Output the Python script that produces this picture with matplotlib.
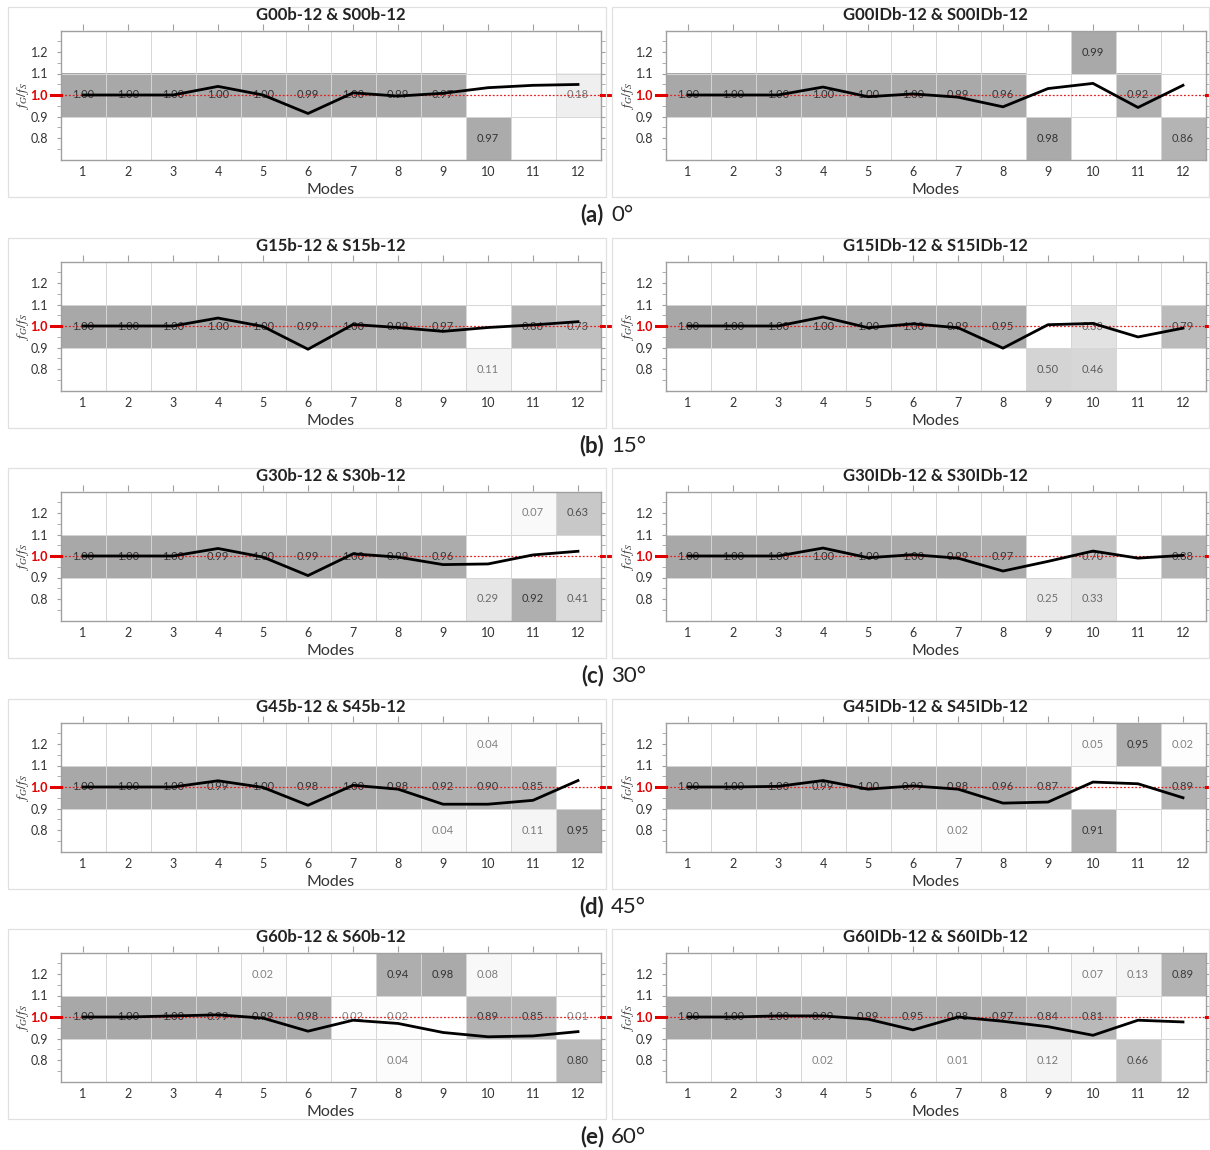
import numpy as np
import matplotlib
matplotlib.use('Agg')
import matplotlib.pyplot as plt
from matplotlib.patches import Rectangle
from matplotlib.transforms import blended_transform_factory

plt.rcParams['font.family'] = ['Lato', 'DejaVu Sans']
plt.rcParams['mathtext.fontset'] = 'stix'

N = np.nan
MODES = list(range(1, 13))
Y_TICKS = [0.8, 0.9, 1.0, 1.1, 1.2]
Y_MINOR = [0.75, 0.85, 0.95, 1.05, 1.15, 1.25]
BANDS = [(1.1, 1.3), (0.9, 1.1), (0.7, 0.9)]   # top, middle, bottom cell rows

TITLES = [
    'G00b-12 & S00b-12', 'G00IDb-12 & S00IDb-12',
    'G15b-12 & S15b-12', 'G15IDb-12 & S15IDb-12',
    'G30b-12 & S30b-12', 'G30IDb-12 & S30IDb-12',
    'G45b-12 & S45b-12', 'G45IDb-12 & S45IDb-12',
    'G60b-12 & S60b-12', 'G60IDb-12 & S60IDb-12',
]
CAPTION_LETTERS = ['(a)', '(b)', '(c)', '(d)', '(e)']
CAPTION_ANGLES = ['0°', '15°', '30°', '45°', '60°']

# frequency ratio f_G / f_S per mode
RATIOS = [
    [1.00, 1.00, 1.00, 1.040, 1.000, 0.914, 1.010, 0.995, 1.008, 1.034, 1.045, 1.049],
    [1.00, 1.00, 1.00, 1.037, 0.992, 1.005, 0.990, 0.945, 1.030, 1.054, 0.942, 1.045],
    [1.00, 1.00, 1.00, 1.037, 0.998, 0.892, 1.007, 0.993, 0.975, 0.993, 1.005, 1.020],
    [1.00, 1.00, 1.00, 1.042, 0.992, 1.010, 0.992, 0.897, 1.006, 1.012, 0.949, 0.990],
    [1.00, 1.00, 1.00, 1.035, 0.995, 0.909, 1.010, 0.995, 0.960, 0.963, 1.005, 1.022],
    [1.00, 1.00, 1.00, 1.037, 0.992, 1.006, 0.990, 0.930, 0.975, 1.023, 0.990, 1.003],
    [1.00, 1.00, 1.00, 1.029, 0.998, 0.915, 1.008, 0.990, 0.920, 0.920, 0.938, 1.030],
    [1.00, 1.00, 1.003, 1.030, 0.990, 1.005, 0.990, 0.925, 0.930, 1.023, 1.015, 0.950],
    [1.00, 1.00, 1.005, 1.010, 0.995, 0.934, 0.985, 0.970, 0.928, 0.908, 0.912, 0.932],
    [1.00, 1.00, 1.005, 1.005, 0.990, 0.940, 1.000, 0.980, 0.955, 0.915, 0.985, 0.977],
]

# MAC values in the upper band (1.1-1.3)
MAC_TOP = [
    [N, N, N, N, N, N, N, N, N, N, N, N],
    [N, N, N, N, N, N, N, N, N, 0.99, N, N],
    [N, N, N, N, N, N, N, N, N, N, N, N],
    [N, N, N, N, N, N, N, N, N, N, N, N],
    [N, N, N, N, N, N, N, N, N, N, 0.07, 0.63],
    [N, N, N, N, N, N, N, N, N, N, N, N],
    [N, N, N, N, N, N, N, N, N, 0.04, N, N],
    [N, N, N, N, N, N, N, N, N, 0.05, 0.95, 0.02],
    [N, N, N, N, 0.02, N, N, 0.94, 0.98, 0.08, N, N],
    [N, N, N, N, N, N, N, N, N, 0.07, 0.13, 0.89],
]
# MAC values in the middle band (0.9-1.1)
MAC_MID = [
    [1.00, 1.00, 1.00, 1.00, 1.00, 0.99, 1.00, 0.99, 0.97, N, N, 0.18],
    [1.00, 1.00, 1.00, 1.00, 1.00, 1.00, 0.99, 0.96, N, N, 0.92, N],
    [1.00, 1.00, 1.00, 1.00, 1.00, 0.99, 1.00, 0.99, 0.97, N, 0.86, 0.73],
    [1.00, 1.00, 1.00, 1.00, 1.00, 1.00, 0.99, 0.95, N, 0.33, N, 0.79],
    [1.00, 1.00, 1.00, 0.99, 1.00, 0.99, 1.00, 0.99, 0.96, N, N, N],
    [1.00, 1.00, 1.00, 1.00, 1.00, 1.00, 0.99, 0.97, N, 0.70, N, 0.88],
    [1.00, 1.00, 1.00, 0.99, 1.00, 0.98, 1.00, 0.98, 0.92, 0.90, 0.85, N],
    [1.00, 1.00, 1.00, 0.99, 1.00, 0.99, 0.98, 0.96, 0.87, N, N, 0.89],
    [1.00, 1.00, 1.00, 0.99, 0.99, 0.98, 0.02, 0.02, N, 0.89, 0.85, 0.01],
    [1.00, 1.00, 1.00, 0.99, 0.99, 0.95, 0.98, 0.97, 0.84, 0.81, N, N],
]
# MAC values in the lower band (0.7-0.9)
MAC_BOT = [
    [N, N, N, N, N, N, N, N, N, 0.97, N, N],
    [N, N, N, N, N, N, N, N, 0.98, N, N, 0.86],
    [N, N, N, N, N, N, N, N, N, 0.11, N, N],
    [N, N, N, N, N, N, N, N, 0.50, 0.46, N, N],
    [N, N, N, N, N, N, N, N, N, 0.29, 0.92, 0.41],
    [N, N, N, N, N, N, N, N, 0.25, 0.33, N, N],
    [N, N, N, N, N, N, N, N, 0.04, N, 0.11, 0.95],
    [N, N, N, N, N, N, 0.02, N, N, 0.91, N, N],
    [N, N, N, N, N, N, N, 0.04, N, N, N, 0.80],
    [N, N, N, 0.02, N, N, 0.01, N, 0.12, N, 0.66, N],
]

W, H = 1210, 1150
fig = plt.figure(figsize=(W / 100, H / 100), dpi=100)
fig.patch.set_facecolor('white')

ROW_OFF = [0, 231, 461, 692, 922]
COL_X = [60.5, 665.5]
AX_W, AX_H, AX_TOP = 540.0, 129.0, 30.5
FRAME_X = [(8, 606), (612, 1209)]


def fx(px):
    return px / W


def fy(py):
    return 1 - py / H


def cell_color(v):
    g = 1 - 0.34 * v
    return (g, g, g)


def text_color(v):
    g = 0.52 - 0.33 * v
    return (g, g, g)


for r in range(5):
    off = ROW_OFF[r]
    for c in range(2):
        i = 2 * r + c
        # light frame around each sub-picture
        x0, x1 = FRAME_X[c]
        fig.add_artist(Rectangle((fx(x0), fy(197 + off)), fx(x1 - x0), 190 / H,
                                 transform=fig.transFigure, fill=False,
                                 ec='#e0e0e0', lw=0.9))
        ax = fig.add_axes([fx(COL_X[c]), fy(AX_TOP + off + AX_H), AX_W / W, AX_H / H])
        ax.set_xlim(0.5, 12.5)
        ax.set_ylim(0.7, 1.3)

        # MAC cells
        for vals, (b0, b1) in zip([MAC_TOP[i], MAC_MID[i], MAC_BOT[i]], BANDS):
            for m, v in zip(MODES, vals):
                if np.isnan(v):
                    continue
                ax.bar(m, b1 - b0, bottom=b0, width=1.0, color=cell_color(v),
                       edgecolor='none', zorder=1)
                ax.text(m, (b0 + b1) / 2, f'{v:.2f}', ha='center', va='center',
                        fontsize=8, color=text_color(v), zorder=3)

        # cell grid
        ax.vlines(np.arange(1.5, 12.5, 1.0), 0.7, 1.3, colors='#d6d6d6', lw=0.7, zorder=2)
        for yb in (0.9, 1.1):
            ax.axhline(yb, color='#d6d6d6', lw=0.7, zorder=2)

        ax.axhline(1.0, color='#e02020', ls=(0, (1.5, 1.5)), lw=0.9, zorder=4)
        ax.plot(MODES, RATIOS[i], color='black', lw=2.0, zorder=5)

        # spines
        for s in ax.spines.values():
            s.set_color('#a0a0a0')
            s.set_linewidth(1.0)

        # ticks
        ax.set_xticks(MODES)
        ax.set_xticklabels([str(m) for m in MODES])
        ax.tick_params(axis='x', which='both', length=0, pad=5, labelsize=9,
                       labelcolor='#333333')
        sec = ax.secondary_xaxis('top')
        sec.set_xticks(MODES)
        sec.tick_params(axis='x', length=4, direction='out', color='#a0a0a0',
                        labeltop=False)
        sec.spines['top'].set_visible(False)

        ax.set_yticks(Y_TICKS)
        ax.set_yticklabels([f'{t:.1f}' for t in Y_TICKS])
        ax.set_yticks(Y_MINOR, minor=True)
        ax.tick_params(axis='y', which='both', left=True, right=True, direction='out',
                       length=3, color='#a0a0a0', labelsize=9, labelcolor='#333333',
                       pad=6)
        lab = ax.get_yticklabels()[2]
        lab.set_color('#e00000')
        lab.set_fontweight('bold')

        trans = blended_transform_factory(ax.transAxes, ax.transData)
        ax.plot([-10 / AX_W, 0], [1.0, 1.0], transform=trans, color='#e00000',
                lw=2.2, clip_on=False, zorder=6)
        ax.plot([1, 1 + 10 / AX_W], [1.0, 1.0], transform=trans, color='#e00000',
                lw=2.2, clip_on=False, zorder=6)

        # labels
        ax.text(-37.5 / AX_W, 0.5, r'$f_G/f_S$', transform=ax.transAxes, rotation=90,
                ha='center', va='center', fontsize=9.5, color='#333333')
        ax.text(0.5, -30.5 / AX_H, 'Modes', transform=ax.transAxes, ha='center',
                va='center', fontsize=11.5, color='#333333')
        fig.text(fx(COL_X[c] + AX_W / 2), fy(15 + off), TITLES[i], ha='center',
                 va='center', fontsize=12, fontweight='bold', color='#222222')

    fig.text(fx(604), fy(215 + off), CAPTION_LETTERS[r], ha='right', va='center',
             fontsize=16, fontweight='bold', color='#222222')
    fig.text(fx(611), fy(215 + off), CAPTION_ANGLES[r], ha='left', va='center',
             fontsize=16, color='#222222')

fig.savefig('out.png', dpi=100, facecolor='white')
